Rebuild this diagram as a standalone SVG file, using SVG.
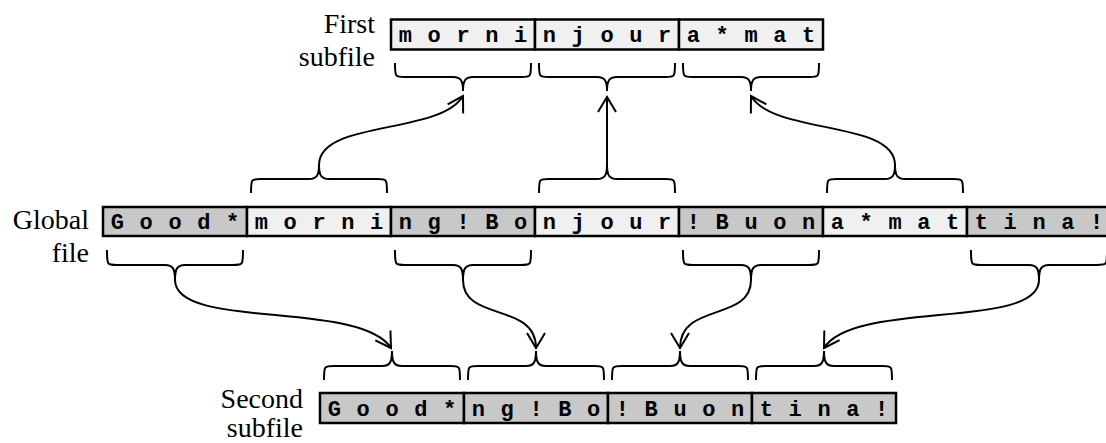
<svg xmlns="http://www.w3.org/2000/svg" width="1106" height="443" viewBox="0 0 1106 443">
<style>
.lbl{font-family:"Liberation Serif","Times New Roman",serif;font-size:28px;fill:#000;text-anchor:end}
.ch{font-family:"Liberation Mono","Courier New",monospace;font-weight:bold;font-size:22px;fill:#000;text-anchor:middle}
.dk{fill:#c8c8c8;stroke:#000;stroke-width:2.5}
.lt{fill:#f0f0f0;stroke:#000;stroke-width:2.5}
.br{fill:none;stroke:#000;stroke-width:2}
.ar{fill:none;stroke:#000;stroke-width:2;marker-end:url(#ah)}
</style>
<defs>
<marker id="ah" markerUnits="userSpaceOnUse" markerWidth="30" markerHeight="30" viewBox="-20 -15 30 30" refX="0" refY="0" orient="auto">
<path d="M-15,-9 L0,0 L-15,9" fill="none" stroke="#000" stroke-width="2"/>
</marker>
</defs>

<g id="label-first">
<text class="lbl" x="375" y="33">First</text>
<text class="lbl" x="375" y="66">subfile</text>
</g>
<g id="label-global">
<text class="lbl" x="89" y="229">Global</text>
<text class="lbl" x="89" y="262">file</text>
</g>
<g id="label-second">
<text class="lbl" x="303" y="408">Second</text>
<text class="lbl" x="303" y="437">subfile</text>
</g>

<g id="first-subfile">
<rect class="lt" x="391" y="19.5" width="144" height="30"/>
<rect class="lt" x="535" y="19.5" width="144" height="30"/>
<rect class="lt" x="679" y="19.5" width="144" height="30"/>
<text class="ch" y="42" x="405.4 434.2 463 491.8 520.6">morni</text>
<text class="ch" y="42" x="549.4 578.2 607 635.8 664.6">njour</text>
<text class="ch" y="42" x="693.4 722.2 751 779.8 808.6">a*mat</text>
</g>

<g id="global-file">
<rect class="dk" x="103" y="207" width="144" height="29"/>
<rect class="lt" x="247" y="207" width="144" height="29"/>
<rect class="dk" x="391" y="207" width="144" height="29"/>
<rect class="lt" x="535" y="207" width="144" height="29"/>
<rect class="dk" x="679" y="207" width="144" height="29"/>
<rect class="lt" x="823" y="207" width="144" height="29"/>
<rect class="dk" x="967" y="207" width="144" height="29"/>
<text class="ch" y="228.5" x="117.4 146.2 175 203.8 232.6">Good*</text>
<text class="ch" y="228.5" x="261.4 290.2 319 347.8 376.6">morni</text>
<text class="ch" y="228.5" x="405.4 434.2 463 491.8 520.6">ng!Bo</text>
<text class="ch" y="228.5" x="549.4 578.2 607 635.8 664.6">njour</text>
<text class="ch" y="228.5" x="693.4 722.2 751 779.8 808.6">!Buon</text>
<text class="ch" y="228.5" x="837.4 866.2 895 923.8 952.6">a*mat</text>
<text class="ch" y="228.5" x="981.4 1010.2 1039 1067.8 1096.6">tina!</text>
</g>

<g id="second-subfile">
<rect class="dk" x="320" y="393" width="144" height="30"/>
<rect class="dk" x="464" y="393" width="144" height="30"/>
<rect class="dk" x="608" y="393" width="144" height="30"/>
<rect class="dk" x="752" y="393" width="144" height="30"/>
<text class="ch" y="415.5" x="334.4 363.2 392 420.8 449.6">Good*</text>
<text class="ch" y="415.5" x="478.4 507.2 536 564.8 593.6">ng!Bo</text>
<text class="ch" y="415.5" x="622.4 651.2 680 708.8 737.6">!Buon</text>
<text class="ch" y="415.5" x="766.4 795.2 824 852.8 881.6">tina!</text>
</g>

<g id="braces">
<path class="br" d="M395,63 C395,77 395,77 405,77 H453 C461,77 463,81 463,91 C463,81 465,77 473,77 H521 C531,77 531,77 531,63"/>
<path class="br" d="M539,63 C539,77 539,77 549,77 H597 C605,77 607,81 607,91 C607,81 609,77 617,77 H665 C675,77 675,77 675,63"/>
<path class="br" d="M683,63 C683,77 683,77 693,77 H741 C749,77 751,81 751,91 C751,81 753,77 761,77 H809 C819,77 819,77 819,63"/>
<path class="br" d="M251,193 C251,179 251,179 261,179 H309 C317,179 319,175 319,165 C319,175 321,179 329,179 H377 C387,179 387,179 387,193"/>
<path class="br" d="M539,193 C539,179 539,179 549,179 H597 C605,179 607,175 607,165 C607,175 609,179 617,179 H665 C675,179 675,179 675,193"/>
<path class="br" d="M827,193 C827,179 827,179 837,179 H885 C893,179 895,175 895,165 C895,175 897,179 905,179 H953 C963,179 963,179 963,193"/>
<path class="br" d="M107,250 C107,265 107,265 117,265 H165 C173,265 175,269 175,280 C175,269 177,265 185,265 H233 C243,265 243,265 243,250"/>
<path class="br" d="M395,250 C395,265 395,265 405,265 H453 C461,265 463,269 463,280 C463,269 465,265 473,265 H521 C531,265 531,265 531,250"/>
<path class="br" d="M683,250 C683,265 683,265 693,265 H741 C749,265 751,269 751,280 C751,269 753,265 761,265 H809 C819,265 819,265 819,250"/>
<path class="br" d="M971,250 C971,265 971,265 981,265 H1029 C1037,265 1039,269 1039,280 C1039,269 1041,265 1049,265 H1097 C1107,265 1107,265 1107,250"/>
<path class="br" d="M324,380 C324,366 324,366 334,366 H382 C390,366 392,362 392,351 C392,362 394,366 402,366 H450 C460,366 460,366 460,380"/>
<path class="br" d="M468,380 C468,366 468,366 478,366 H526 C534,366 536,362 536,351 C536,362 538,366 546,366 H594 C604,366 604,366 604,380"/>
<path class="br" d="M612,380 C612,366 612,366 622,366 H670 C678,366 680,362 680,351 C680,362 682,366 690,366 H738 C748,366 748,366 748,380"/>
<path class="br" d="M756,380 C756,366 756,366 766,366 H814 C822,366 824,362 824,351 C824,362 826,366 834,366 H882 C892,366 892,366 892,380"/>
</g>

<g id="connectors">
<path class="ar" d="M319,165 C319,120 440,135 463,96"/>
<path class="ar" d="M607,165 L607,97"/>
<path class="ar" d="M895,165 C895,120 774,135 751,96"/>
<path class="ar" d="M175,280 C175,330 360,300 391,348"/>
<path class="ar" d="M463,280 C463,322 536,302 536,348"/>
<path class="ar" d="M751,280 C751,322 680,302 680,348"/>
<path class="ar" d="M1039,280 C1039,330 854,300 824,348"/>
</g>
</svg>
